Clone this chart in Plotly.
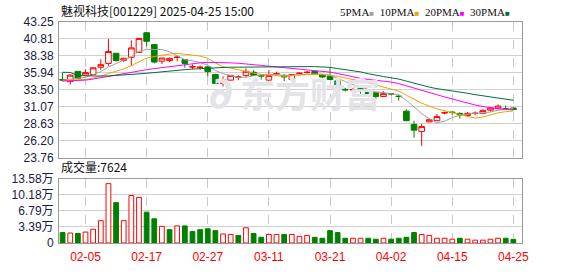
import plotly.graph_objects as go

# ---------------- data ----------------
dates = ["01-23", "01-24", "01-27", "02-05", "02-06", "02-07", "02-10", "02-11", "02-12", "02-13",
         "02-14", "02-17", "02-18", "02-19", "02-20", "02-21", "02-24", "02-25", "02-26", "02-27",
         "02-28", "03-03", "03-04", "03-05", "03-06", "03-07", "03-10", "03-11", "03-12", "03-13",
         "03-14", "03-17", "03-18", "03-19", "03-20", "03-21", "03-24", "03-25", "03-26", "03-27",
         "03-28", "03-31", "04-01", "04-02", "04-03", "04-07", "04-08", "04-09", "04-10", "04-11",
         "04-14", "04-15", "04-16", "04-17", "04-18", "04-21", "04-22", "04-23", "04-24", "04-25"]

open_ = [35.0, 34.71, 36.16, 35.62, 35.71, 36.75, 37.3, 38.75, 37.75, 38.17,
         38.89, 41.71, 40.0, 37.62, 37.7, 38.15, 37.85, 36.78, 36.72, 36.8,
         35.71, 34.43, 34.9, 35.33, 35.58, 36.03, 35.6, 34.9, 35.77, 35.58,
         34.98, 35.86, 36.0, 36.16, 35.66, 35.44, 34.8, 33.58, 33.5, 33.65,
         33.35, 33.07, 32.55, 32.95, 32.6, 30.44, 28.53, 27.53, 28.9, 29.07,
         30.18, 30.3, 30.12, 29.8, 30.1, 30.12, 30.58, 30.8, 30.8, 30.89]
high = [36.0, 35.71, 36.2, 36.44, 36.75, 37.89, 40.8, 38.8, 38.1, 40.62,
        40.95, 41.8, 40.05, 38.1, 38.15, 38.4, 37.9, 37.16, 37.0, 36.94,
        35.8, 35.44, 35.65, 35.6, 36.61, 36.34, 35.65, 36.34, 36.1, 35.8,
        35.75, 36.0, 36.2, 36.2, 35.75, 36.8, 34.98, 33.8, 33.75, 33.98,
        33.4, 33.1, 33.3, 33.05, 32.85, 30.71, 29.07, 28.6, 29.35, 30.03,
        30.4, 30.45, 30.26, 30.3, 30.4, 30.7, 30.95, 31.39, 31.25, 31.0]
low = [34.7, 34.25, 35.1, 35.52, 35.6, 36.39, 36.9, 37.57, 37.5, 36.94,
       38.8, 39.75, 37.3, 37.2, 37.48, 37.6, 36.7, 36.48, 36.4, 35.44,
       34.35, 33.98, 34.85, 34.9, 35.35, 35.5, 34.98, 34.85, 35.6, 34.76,
       34.9, 35.75, 35.85, 35.75, 35.2, 34.95, 33.07, 33.3, 33.35, 32.95,
       32.8, 32.17, 32.5, 32.7, 31.94, 29.0, 26.62, 25.44, 28.85, 29.0,
       29.98, 29.95, 29.35, 29.7, 29.9, 30.05, 30.4, 30.75, 30.7, 30.6]
close = [34.9, 35.62, 35.17, 35.98, 36.67, 37.12, 39.02, 37.7, 38.05, 39.53,
         40.89, 40.48, 37.5, 38.07, 38.03, 38.2, 37.3, 36.82, 36.75, 36.12,
         34.43, 34.98, 35.58, 35.35, 36.16, 35.58, 35.5, 35.58, 35.8, 35.35,
         35.71, 35.89, 36.03, 35.8, 35.35, 34.98, 33.85, 33.5, 33.53, 33.6,
         32.82, 32.55, 32.95, 32.9, 32.55, 29.07, 27.71, 28.22, 29.21, 29.66,
         30.22, 30.25, 29.9, 30.12, 30.14, 30.55, 30.89, 31.16, 30.78, 30.67]

volume = [22000, 21000, 20000, 23000, 29000, 47000, 125000, 85000, 47000, 100000,
          96000, 65000, 51000, 35000, 28000, 36000, 36000, 24000, 28000, 30000,
          26000, 19000, 18000, 16000, 32000, 20000, 12000, 18000, 18000, 18000,
          18000, 14000, 16000, 12000, 10000, 26000, 22000, 10000, 10000, 10000,
          10000, 8000, 10000, 8000, 10000, 12000, 22000, 18000, 16000, 10000,
          10000, 8000, 10000, 8000, 6000, 6000, 8000, 10000, 10000, 7624]

ma5 = [34.9, 35.0, 35.1, 35.3, 35.67, 36.11, 36.79, 37.3, 37.71, 38.28,
       39.04, 39.33, 39.29, 39.29, 38.99, 38.46, 37.82, 37.68, 37.42, 37.04,
       36.28, 35.82, 35.57, 35.29, 35.3, 35.53, 35.63, 35.63, 35.72, 35.56,
       35.59, 35.67, 35.76, 35.76, 35.76, 35.61, 35.2, 34.7, 34.24, 33.9,
       33.48, 33.22, 33.11, 32.96, 32.75, 32.0, 31.04, 30.09, 29.35, 28.77,
       29.0, 29.51, 29.85, 30.03, 30.13, 30.19, 30.32, 30.57, 30.7, 30.81]
ma10 = [34.85, 34.88, 34.9, 35.0, 35.2, 35.45, 35.85, 36.15, 36.5, 36.98,
        37.58, 38.06, 38.29, 38.5, 38.64, 38.75, 38.58, 38.49, 38.36, 38.02,
        37.37, 36.82, 36.63, 36.36, 36.17, 35.91, 35.73, 35.6, 35.51, 35.43,
        35.56, 35.65, 35.7, 35.74, 35.66, 35.6, 35.43, 35.23, 35.0, 34.82,
        34.54, 34.2, 33.89, 33.6, 33.32, 32.73, 32.12, 31.59, 31.16, 30.76,
        30.5, 30.27, 29.96, 29.69, 29.45, 29.59, 29.9, 30.2, 30.36, 30.46]
ma20 = [34.76, 34.8, 34.85, 34.9, 35.05, 35.25, 35.5, 35.7, 35.9, 36.1,
        36.25, 36.4, 36.55, 36.7, 36.85, 37.0, 37.15, 37.28, 37.38, 37.45,
        37.45, 37.42, 37.38, 37.32, 37.25, 37.15, 37.02, 36.9, 36.8, 36.7,
        36.55, 36.45, 36.38, 36.3, 36.2, 36.05, 35.85, 35.6, 35.4, 35.15,
        35.0, 34.9, 34.78, 34.62, 34.4, 34.1, 33.75, 33.45, 33.12, 32.8,
        32.48, 32.17, 31.87, 31.58, 31.32, 31.1, 30.93, 30.8, 30.7, 30.62]
ma30 = [36.03, 36.0, 35.55, 35.5, 35.48, 35.48, 35.5, 35.55, 35.62, 35.7,
        35.8, 35.88, 36.0, 36.1, 36.2, 36.3, 36.4, 36.48, 36.56, 36.64,
        36.7, 36.72, 36.75, 36.77, 36.78, 36.79, 36.8, 36.8, 36.81, 36.81,
        36.82, 36.83, 36.84, 36.84, 36.8, 36.73, 36.56, 36.42, 36.27, 36.08,
        35.82, 35.56, 35.41, 35.23, 35.05, 34.75, 34.43, 34.14, 33.89, 33.67,
        33.53, 33.37, 33.18, 33.01, 32.81, 32.64, 32.49, 32.34, 32.16, 32.0]

price_ticks = ["23.76", "26.20", "28.63", "31.07", "33.50", "35.94", "38.38", "40.81", "43.25"]
vol_tick_vals = [0, 33950, 67900, 101850, 135800]
vol_tick_text = ["0", "3.39万", "6.79万", "10.18万", "13.58万"]
date_ticks = ["02-05", "02-17", "02-27", "03-11", "03-21", "04-02", "04-15", "04-25"]

title_text = "魅视科技[001229] 2025-04-25 15:00"
vol_label = "成交量:7624"
ma_names = ["5PMA", "10PMA", "20PMA", "30PMA"]
watermark = "东方财富"

# ---------------- styles ----------------
RED = "#ff0000"
GREEN = "#008000"
MA_COLORS = ["#a0a0a0", "#f0a000", "#ff00ff", "#006f3a"]
GRID = "#d0d0d0"
BORDER = "#999999"
FONT = "Liberation Sans, Arial, Noto Sans CJK SC"
WM_COLOR = "#e3e3e8"

fig = go.Figure()

# MA lines
for vals, col, name in zip([ma5, ma10, ma20, ma30], MA_COLORS, ma_names):
    fig.add_trace(go.Scatter(x=dates, y=vals, mode="lines", name=name,
                             line=dict(color=col, width=1), hoverinfo="skip",
                             xaxis="x", yaxis="y"))

# candles
fig.add_trace(go.Candlestick(
    x=dates, open=open_, high=high, low=low, close=close,
    increasing=dict(line=dict(color=RED, width=1), fillcolor="#ffffff"),
    decreasing=dict(line=dict(color=GREEN, width=1), fillcolor=GREEN),
    whiskerwidth=0, xaxis="x", yaxis="y", hoverinfo="skip"))

# volume bars: colour by change vs previous close
vol_fill, vol_line = [], []
for i, c in enumerate(close):
    ref = close[i - 1] if i > 0 else open_[0]
    up = c >= ref
    vol_fill.append("#ffffff" if up else GREEN)
    vol_line.append(RED if up else GREEN)
fig.add_trace(go.Bar(x=dates, y=volume, width=0.62,
                     marker=dict(color=vol_fill, line=dict(color=vol_line, width=1)),
                     xaxis="x2", yaxis="y2", hoverinfo="skip"))

W, H = 578, 276
L, R, T, B = 56, 56, 22, 21
ph = H - T - B
pw = W - L - R
main_dom = [(H - B - 165) / ph, 1.0]
vol_dom = [0.0, (H - B - 187) / ph]

xcommon = dict(type="category", range=[-0.47, 60.13], tickmode="array",
               tickvals=date_ticks, showgrid=True, gridcolor="#c8c8c8", griddash="dash",
               gridwidth=1, showline=True, mirror=True, linecolor=BORDER, linewidth=1,
               ticks="", zeroline=False, fixedrange=True)

fig.update_layout(
    width=W, height=H, margin=dict(l=L, r=R, t=T, b=B),
    paper_bgcolor="#ffffff", plot_bgcolor="#ffffff",
    showlegend=False, boxgap=0.22, boxgroupgap=0.05,
    font=dict(family=FONT, size=12, color="#222222"),
    xaxis=dict(**xcommon, anchor="y", showticklabels=False, rangeslider=dict(visible=False)),
    xaxis2=dict(**xcommon, anchor="y2", matches="x", showticklabels=True,
                tickfont=dict(color="#ff0000", size=12, family=FONT), ticklabelstandoff=3),
    yaxis=dict(domain=main_dom, range=[23.76, 43.25], tickmode="array",
               tickvals=[float(t) for t in price_ticks], ticktext=price_ticks,
               showgrid=True, gridcolor=GRID, showline=True, mirror=True, linecolor=BORDER,
               ticks="", zeroline=False, ticklabelstandoff=2,
               tickfont=dict(color="#1a1a40", size=12, family=FONT)),
    yaxis2=dict(domain=vol_dom, range=[0, 135800], tickmode="array",
                tickvals=vol_tick_vals, ticktext=vol_tick_text,
                showgrid=True, gridcolor=GRID, showline=True, mirror=True, linecolor=BORDER,
                ticks="", zeroline=False, ticklabelstandoff=2,
                tickfont=dict(color="#1a1a40", size=12, family=FONT)),
)

# watermark (logo glyph + text)
wm_y = (H - B - 96) / ph
fig.add_annotation(text="<b><i>∂</i></b>", xref="paper", yref="paper",
                   x=(219 - L) / pw, y=wm_y, xanchor="center", yanchor="middle",
                   showarrow=False,
                   font=dict(size=44, color=WM_COLOR, family="DejaVu Sans"))
fig.add_annotation(text=f"<b>{watermark}</b>", xref="paper", yref="paper",
                   x=(309 - L) / pw, y=wm_y, xanchor="center", yanchor="middle",
                   showarrow=False, font=dict(size=35, color=WM_COLOR,
                                              family="Noto Sans CJK SC"))

# title
fig.add_annotation(text=title_text, xref="paper", yref="paper", x=0, y=1,
                   xanchor="left", yanchor="bottom", yshift=1, showarrow=False,
                   font=dict(size=12, color="#111111", family="Noto Sans CJK SC"))

# legend text with coloured squares
legend_html = "  ".join(
    f"{n}<span style='color:{c};font-size:8px'>■</span>" for n, c in zip(ma_names, MA_COLORS))
fig.add_annotation(text=legend_html, xref="paper", yref="paper", x=1, y=1,
                   xanchor="right", yanchor="bottom", yshift=2, xshift=-10, showarrow=False,
                   font=dict(size=11, color="#111111", family="Liberation Serif"))

# volume label
fig.add_annotation(text=vol_label, xref="paper", yref="paper", x=0, y=vol_dom[1],
                   xanchor="left", yanchor="bottom", yshift=2, showarrow=False,
                   font=dict(size=12, color="#111111", family="Noto Sans CJK SC"))

fig.write_html("out.html")
